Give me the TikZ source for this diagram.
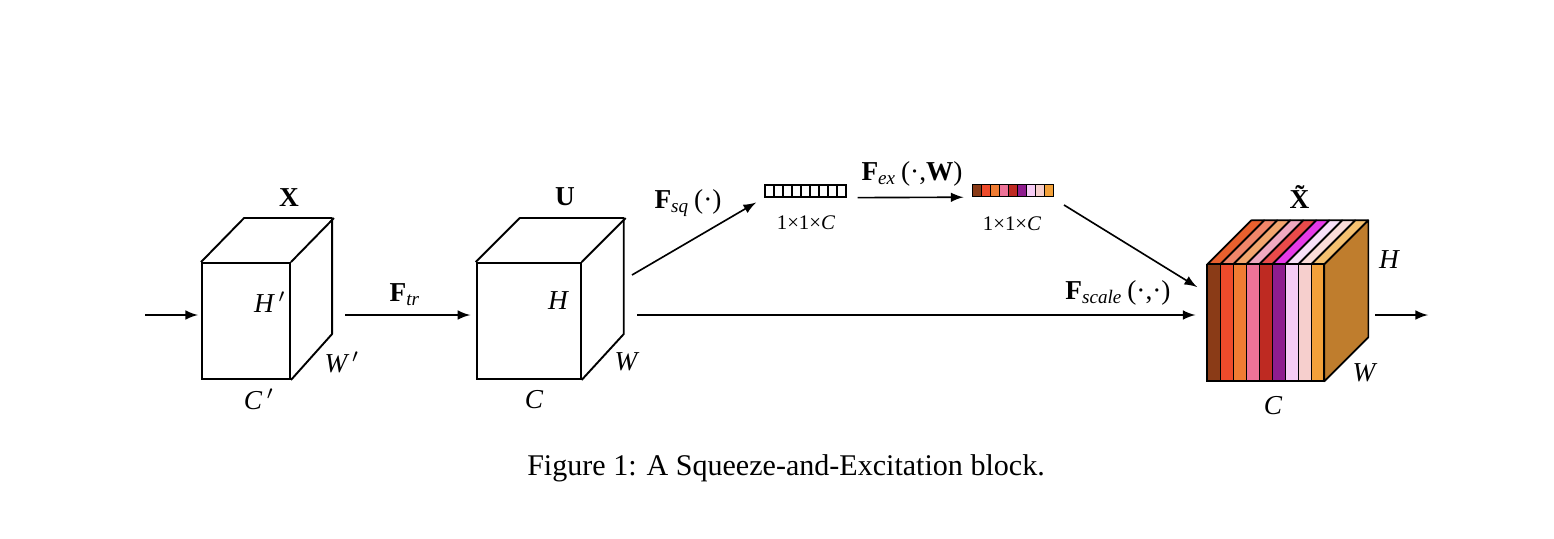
\documentclass[tikz,border=0pt]{standalone}
\usepackage{fontspec}
\setmainfont{Liberation Serif}
\usetikzlibrary{positioning}

\definecolor{sA}{HTML}{8A3B17}
\definecolor{sB}{HTML}{EE4B2B}
\definecolor{sC}{HTML}{F07C33}
\definecolor{sD}{HTML}{EE7398}
\definecolor{sE}{HTML}{BE2A22}
\definecolor{sF}{HTML}{8E1C8E}
\definecolor{sG}{HTML}{F6CCF5}
\definecolor{sH}{HTML}{F6CFCD}
\definecolor{sI}{HTML}{F3A13A}
\definecolor{tA}{HTML}{E8602E}
\definecolor{tB}{HTML}{F0866A}
\definecolor{tC}{HTML}{F2A56E}
\definecolor{tD}{HTML}{F0A8C0}
\definecolor{tE}{HTML}{E84A4A}
\definecolor{tF}{HTML}{E63AE8}
\definecolor{tG}{HTML}{F8E0F8}
\definecolor{tH}{HTML}{FADCD8}
\definecolor{tI}{HTML}{F4C070}
\definecolor{side}{HTML}{BF7D2D}

\tikzset{
        face/.style = {rectangle, draw=black, line width=0.7pt, inner sep=0pt},
        edge/.style = {draw=black, line width=0.7pt, line join=round},
        vec/.style = {rectangle, draw=black, line width=0.5pt, inner sep=0pt, minimum width=29.65pt, minimum height=4.39pt},
        cell/.style = {draw=black, line width=0.5pt},
        stripe/.style = {draw=black, line width=0.6pt, line join=round},
        flow/.style = {-latex, line width=0.6pt},
        dim/.style = {font=\itshape},
        size/.style = {font=\fontsize{7.6}{9}\selectfont}
    }

\begin{document}
\begin{tikzpicture}[x=0.366pt,y=-0.366pt,every node/.style={font=\normalsize}]
            \useasboundingbox (0,0) rectangle (1554,538);

            % input tensor X
            \node[face,minimum width=32.21pt,minimum height=42.46pt] (xf) at (246,321) {};
            \draw[edge] (xf.north west) -- ++(43,-44) -- ++(88,0) -- ++(0,116) -- (xf.south east);
            \draw[edge] (xf.north east) -- ++(43,-44);
            \node (xlab) at (289,198) {\textbf{X}};
            \node[dim] (xh) at (270,302) {H\,$'$};
            \node[dim] (xw) at (342,362) {W\,$'$};
            \node[dim] (xc) at (259,399) {C\,$'$};

            % feature map U
            \node[face,minimum width=38.06pt,minimum height=42.46pt] (uf) at (528.7,321) {};
            \draw[edge] (uf.north west) -- ++(44,-44) -- ++(104,0) -- ++(0,116) -- (uf.south east);
            \draw[edge] (uf.north east) -- ++(44,-44);
            \node (ulab) at (565,197) {\textbf{U}};
            \node[dim] (uh) at (558,301) {H};
            \node[dim] (uw) at (626,362) {W};
            \node[dim] (uc) at (534,400) {C};

            % squeeze vector
            \node[vec] (sq) at (805.5,191) {};
            \foreach \i in {1,...,8}
                \draw[cell] (765+\i*9,185) -- ++(0,12);
            \node[size] (sqlab) at (806,223) {1×1×\textit{C}};

            % excitation vector
            \node[vec] (ex) at (1012.8,190.5) {};
            \foreach \c [count=\i from 0] in {sA,sB,sC,sD,sE,sF,sG,sH,sI}
                \filldraw[cell,fill=\c] (972.3+\i*9,184.5) rectangle ++(9,12);
            \node[size] (exlab) at (1012,224) {1×1×\textit{C}};

            % output tensor
            \foreach \c [count=\i from 0] in {tA,tB,tC,tD,tE,tF,tG,tH,tI}
                \filldraw[stripe,fill=\c] (1207.3+\i*13,264.3) -- ++(44,-44) -- ++(13,0) -- ++(-44,44) -- cycle;
            \filldraw[stripe,fill=side] (1324.3,264.3) -- ++(44,-44) -- ++(0,117) -- ++(-44,44) -- cycle;
            \foreach \c [count=\i from 0] in {sA,sB,sC,sD,sE,sF,sG,sH,sI}
                \filldraw[stripe,fill=\c] (1207.3+\i*13,264.3) rectangle ++(13,117);
            \node[face,minimum width=42.82pt,minimum height=42.82pt] (of) at (1265.8,323) {};
            \node (olab) at (1304,197) {\textbf{\~X}};
            \node[dim] (oh) at (1389,260) {H};
            \node[dim] (ow) at (1364,373) {W};
            \node[dim] (oc) at (1273,406) {C};

            % connectors
            \coordinate (in) at (145,315);
            \coordinate (xout) at (345,315);
            \coordinate (uout) at (637,315);
            \coordinate (uup) at (632,275);
            \coordinate (exout) at (1064,205);
            \coordinate (oin) at (1197,287);
            \coordinate (oout) at (1375,315);
            \coordinate (out) at (1428,315);

            \draw[flow] (in) -- (198,315);
            \draw[flow,shorten >=2pt] (xout) -- (uf.west |- xout);
            \draw[flow,shorten >=3.5pt] (uup) -- (sq.south west);
            \draw[flow,shorten <=4pt,shorten >=3pt] (sq.south east) -- (ex.south west);
            \draw[flow] (exout) -- (oin);
            \draw[flow,shorten >=4pt] (uout) -- (of.west |- uout);
            \draw[flow] (oout) -- (out);

            \node (ftr) at (405,295) {\textbf{F}\textsubscript{\textit{tr}}};
            \node (fsq) at (688,203) {\textbf{F}\textsubscript{\textit{sq}}\,(·)};
            \node (fex) at (912,174) {\textbf{F}\textsubscript{\textit{ex}}\,(·,\textbf{W})};
            \node (fsc) at (1118,293) {\textbf{F}\textsubscript{\textit{scale}}\,(·,·)};

            \node[font=\fontsize{11}{13}\selectfont] (caption) at (786,468) {Figure 1: A Squeeze-and-Excitation block.};
        \end{tikzpicture}
\end{document}
